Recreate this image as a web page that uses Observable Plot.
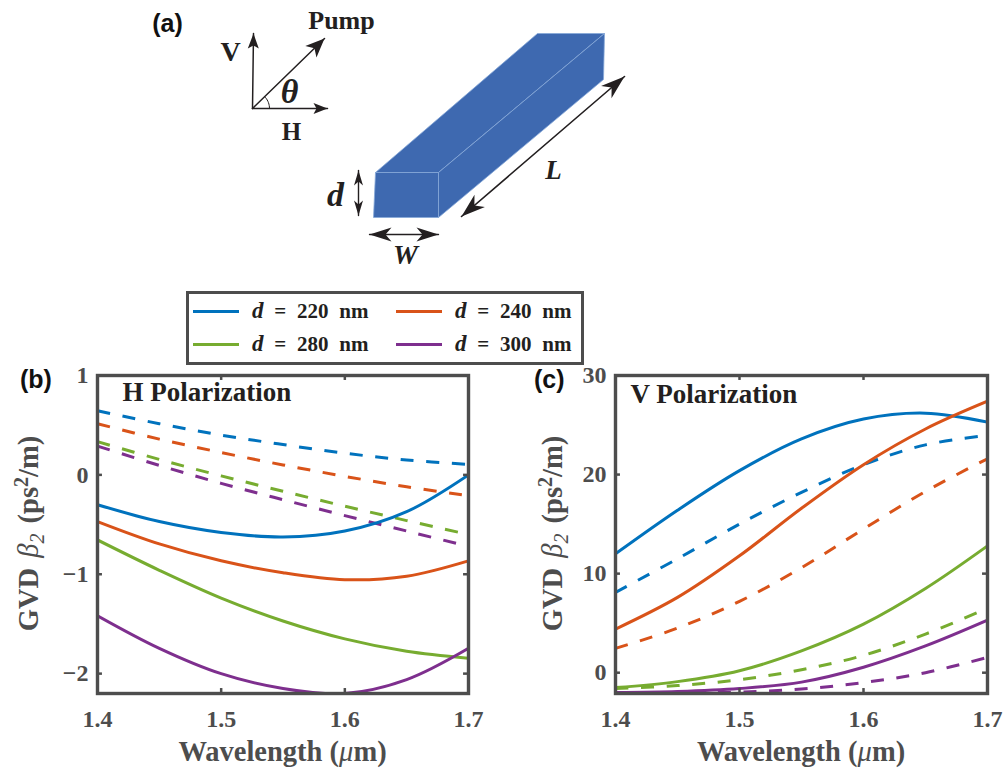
<!DOCTYPE html>
<html><head><meta charset="utf-8">
<script src="https://cdn.jsdelivr.net/npm/d3@7"></script>
<script src="https://cdn.jsdelivr.net/npm/@observablehq/plot@0.6"></script>
<style>
html,body{margin:0;padding:0;background:#fff;}
#root{position:relative;width:1003px;height:772px;overflow:hidden;font-family:"Liberation Serif",serif;}
#root>div,#root>svg,#root>figure{position:absolute;margin:0;}
#root svg{background:none;overflow:visible;}
.leg{position:absolute;font:bold 21px "Liberation Serif",serif;color:#231f20;white-space:pre;word-spacing:5.5px;}
.leg i{font-size:23px}
</style></head><body><div id="root"></div>
<script>
// ---------- data ----------
const wavelength = [1.4, 1.45, 1.5, 1.55, 1.6, 1.65, 1.7];
const thickness = ["220", "240", "280", "300"];
const xTicks = [1.4, 1.5, 1.6, 1.7];
const hTicks = [-2, -1, 0, 1];
const vTicks = [0, 10, 20, 30];

const hSolid220 = [-0.30, -0.47, -0.58, -0.625, -0.565, -0.37, 0.0];
const hSolid240 = [-0.47, -0.695, -0.865, -0.985, -1.055, -1.02, -0.865];
const hSolid280 = [-0.655, -0.96, -1.24, -1.47, -1.65, -1.775, -1.845];
const hSolid300 = [-1.417, -1.745, -2.0, -2.15, -2.2, -2.06, -1.745];
const hDash220 = [0.645, 0.515, 0.40, 0.305, 0.218, 0.15, 0.105];
const hDash240 = [0.515, 0.36, 0.225, 0.10, -0.015, -0.12, -0.21];
const hDash280 = [0.335, 0.155, -0.01, -0.165, -0.315, -0.46, -0.60];
const hDash300 = [0.29, 0.095, -0.085, -0.25, -0.41, -0.565, -0.72];

const vSolid220 = [12.0, 16.4, 20.4, 23.6, 25.6, 26.2, 25.3];
const vSolid240 = [4.4, 7.6, 11.8, 16.6, 21.0, 24.6, 27.4];
const vSolid280 = [-1.5, -0.9, 0.2, 2.2, 4.9, 8.5, 12.8];
const vSolid300 = [-2.0, -1.9, -1.6, -0.95, 0.55, 2.7, 5.3];
const vDash220 = [8.1, 11.5, 15.0, 18.2, 21.0, 23.0, 23.95];
const vDash240 = [2.45, 4.5, 7.2, 10.6, 14.5, 18.3, 21.6];
const vDash280 = [-1.6, -1.3, -0.7, 0.3, 1.75, 3.9, 6.5];
const vDash300 = [-2.05, -2.05, -1.95, -1.65, -1.0, 0.0, 1.55];

// ---------- styles ----------
const palette = ["#0072BD", "#D95319", "#77AC30", "#7E2F8E"];
const GREY = "#4d4d4d", INK = "#231f20", BLUE = "#3e69b0", EDGE = "#86a8d8";
const root = document.getElementById("root");
const serif = "Liberation Serif", sans = "Liberation Sans";

function seriesLine(values, colour, dashed) {
  const rows = values.map((y, i) => ({x: wavelength[i], y}));
  return Plot.line(rows, {x: "x", y: "y", stroke: colour, strokeWidth: 3, curve: "catmull-rom", clip: true,
    strokeLinecap: "butt", strokeDasharray: dashed ? "13,12.6" : null});
}

function richText(svg, x, y, rotate, size, parts, spacing = 0) {
  const t = d3.select(svg).append("text")
    .attr("transform", `translate(${x},${y}) rotate(${rotate})`)
    .attr("text-anchor", "middle").attr("word-spacing", spacing)
    .attr("fill", GREY).attr("font-family", serif).attr("font-weight", "bold").attr("font-size", size);
  for (const p of parts) {
    const s = t.append("tspan").text(p.t);
    if (p.italic) s.attr("font-style", "italic").attr("font-weight", "normal");
    if (p.dy) s.attr("dy", p.dy);
    if (p.size) s.attr("font-size", p.size);
  }
}

function panel({left, width, marginLeft, marginRight, domain, ticks, solid, dash, title, titleDx, titleDy, labelX, yTick, xTickLen}) {
  const [y0, y1] = domain;
  const x0 = xTicks[0], x1 = xTicks[xTicks.length - 1];
  const p = Plot.plot({
    width, height: 412, marginLeft, marginRight, marginTop: 15, marginBottom: 79,
    x: {domain: [x0, x1]}, y: {domain},
    style: {background: "none", overflow: "visible"},
    marks: [
      ...dash.map((v, i) => seriesLine(v, palette[i], true)),
      ...solid.map((v, i) => seriesLine(v, palette[i], false)),
      Plot.ruleX(xTicks, {x: d => d, y1: y0, y2: y0 + yTick, stroke: GREY, strokeWidth: 2.5}),
      Plot.ruleX(xTicks, {x: d => d, y1: y1, y2: y1 - yTick, stroke: GREY, strokeWidth: 2.5}),
      Plot.ruleY(ticks, {y: d => d, x1: x0, x2: x0 + xTickLen, stroke: GREY, strokeWidth: 2.5}),
      Plot.ruleY(ticks, {y: d => d, x1: x1, x2: x1 - xTickLen, stroke: GREY, strokeWidth: 2.5}),
      Plot.axisX({ticks: xTicks, tickFormat: d3.format(".1f"), tickSize: 0, tickPadding: 16, label: null,
        fontSize: 24, fontWeight: "bold", fontFamily: serif, fill: GREY}),
      Plot.axisY({ticks, tickFormat: d3.format("d"), tickSize: 0, tickPadding: 9, label: null,
        fontSize: 24, fontWeight: "bold", fontFamily: serif, fill: GREY}),
      Plot.frame({stroke: GREY, strokeWidth: 3.4}),
      Plot.text([title], {frameAnchor: "top-left", dx: titleDx, dy: titleDy, fontSize: 27, fontWeight: "bold",
        fontFamily: serif, fill: INK, textAnchor: "start", lineAnchor: "top"})
    ]
  });
  p.style.left = left + "px"; p.style.top = "360px";
  root.appendChild(p);
  const cx = marginLeft + (width - marginLeft - marginRight) / 2;
  richText(p, cx, 401, 0, 28.5, [{t: "Wavelength ("}, {t: "\u03bc", italic: true}, {t: "m)"}]);
  richText(p, labelX, 173.5, -90, 28.5, [
    {t: "GVD "}, {t: "\u03b2", italic: true}, {t: "2", dy: 6, size: 20, italic: true},
    {t: " (ps", dy: -6}, {t: "2", dy: -10, size: 20}, {t: "/m)", dy: 10}], 3);
  return p;
}

panel({left: 0, width: 490, marginLeft: 97, marginRight: 22, domain: [-2.2, 1], ticks: hTicks,
  solid: [hSolid220, hSolid240, hSolid280, hSolid300], dash: [hDash220, hDash240, hDash280, hDash300],
  title: "H Polarization", titleDx: 25, titleDy: 6, labelX: 38, yTick: 0.05, xTickLen: 0.004});
panel({left: 510, width: 493, marginLeft: 105, marginRight: 16, domain: [-2.1, 30], ticks: vTicks,
  solid: [vSolid220, vSolid240, vSolid280, vSolid300], dash: [vDash220, vDash240, vDash280, vDash300],
  title: "V Polarization", titleDx: 15, titleDy: 8, labelX: 52, yTick: 0.5, xTickLen: 0.004});

// ---------- schematic (a) and panel tags, drawn in page pixels ----------
function poly(points, fill, stroke) {
  const closed = [...points, points[0]];
  return Plot.line(closed, {x: d => d[0], y: d => d[1], fill, stroke: stroke || "none", strokeWidth: 0.8, strokeLinejoin: "round"});
}
function arrowHead(from, to, len, half, notch) {
  const dx = to[0] - from[0], dy = to[1] - from[1], L = Math.hypot(dx, dy), ux = dx / L, uy = dy / L;
  return [to,
    [to[0] - ux * len - uy * half, to[1] - uy * len + ux * half],
    [to[0] - ux * (len - notch), to[1] - uy * (len - notch)],
    [to[0] - ux * len + uy * half, to[1] - uy * len - ux * half]];
}
function arrow(from, to, {width = 1.5, both = false, len = 15, half = 6, notch = 4} = {}) {
  const out = [Plot.line([from, to], {x: d => d[0], y: d => d[1], stroke: INK, strokeWidth: width}),
    poly(arrowHead(from, to, len, half, notch), INK)];
  if (both) out.push(poly(arrowHead(to, from, len, half, notch), INK));
  return out;
}
const label = (t, x, y, size, opts = {}) => Plot.text([t], {x: () => x, y: () => y, text: d => d, fontSize: size,
  fontFamily: serif, fontWeight: "bold", fill: INK, ...opts});
const arc = d3.range(0, 46, 5).map(a => [252 + 17 * Math.cos(a * Math.PI / 180), 108 - 17 * Math.sin(a * Math.PI / 180)]);

const schematic = Plot.plot({
  width: 1003, height: 290, margin: 0,
  x: {domain: [0, 1003], axis: null}, y: {domain: [290, 0], axis: null},
  style: {background: "none"},
  marks: [
    poly([[375,172],[537,33],[604,33],[438,172]], BLUE, EDGE),
    poly([[438,172],[604,33],[603,79],[438,217]], BLUE, EDGE),
    poly([[375,172],[438,172],[438,217],[373,217]], BLUE, EDGE),
    ...arrow([252,108],[253,33], {len: 15, half: 5.5, notch: 3}),
    ...arrow([252,108],[327,108], {len: 14, half: 5.5, notch: 3}),
    ...arrow([252,108],[324,38], {len: 19, half: 8, notch: 5}),
    Plot.line(arc, {x: d => d[0], y: d => d[1], stroke: INK, strokeWidth: 1}),
    ...arrow([461,216],[624,76], {width: 1.6, both: true, len: 24, half: 8, notch: 7}),
    ...arrow([358,170],[358,215], {width: 1.4, both: true, len: 15, half: 4.5, notch: 4}),
    ...arrow([369,234],[438,234], {width: 1.4, both: true, len: 22, half: 7, notch: 6}),
    label("Pump", 341, 20, 26),
    label("V", 230, 52, 28),
    label("H", 291, 131, 25),
    label("\u03b8", 289, 92, 34, {fontStyle: "italic"}),
    label("L", 553, 170, 27, {fontStyle: "italic"}),
    label("d", 335, 195, 34, {fontStyle: "italic"}),
    label("W", 405, 255, 28, {fontStyle: "italic"}),
    label("(a)", 167, 23, 25, {fontFamily: sans, fill: "#111"}),
  ]
});
schematic.style.left = "0"; schematic.style.top = "0";
root.appendChild(schematic);

// ---------- legend ----------
const box = document.createElement("div");
box.style.cssText = `left:186px;top:291px;width:392px;height:68px;border:3px solid ${GREY};background:#fff;`;
root.appendChild(box);
thickness.forEach((d, i) => {
  const col = i % 2, row = i < 2 ? 0 : 1;
  const sx = col ? 207 : 4, ty = row ? 37 : 4, ly = row ? 50 : 17;
  const s = document.createElement("div");
  s.style.cssText = `position:absolute;left:${sx}px;top:${ly - 1.5}px;width:46px;height:3px;background:${palette[i]}`;
  box.appendChild(s);
  const t = document.createElement("div");
  t.className = "leg";
  t.style.left = (sx + 59) + "px"; t.style.top = ty + "px";
  t.innerHTML = `<i>d</i> = ${d} nm`;
  box.appendChild(t);
});

// panel tags
for (const [t, left] of [["(b)", 20], ["(c)", 534]]) {
  const el = document.createElement("div");
  el.textContent = t;
  el.style.cssText = `left:${left}px;top:365px;font:bold 25px "Liberation Sans",sans-serif;color:#111;`;
  root.appendChild(el);
}
</script></body></html>
